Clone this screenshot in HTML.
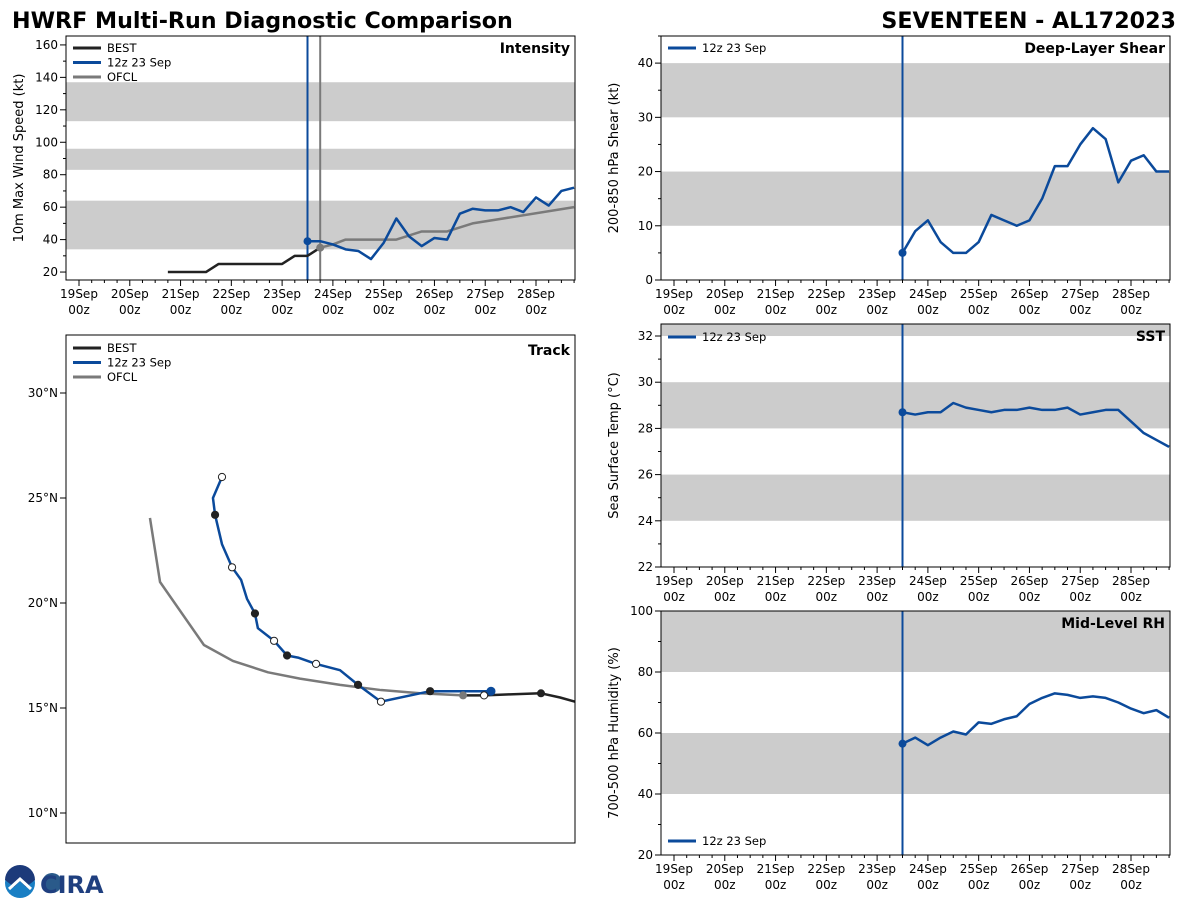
<!DOCTYPE html>
<html><head><meta charset="utf-8"><style>
body{margin:0;background:#fff;width:1200px;height:900px;overflow:hidden;font-family:"DejaVu Sans","Liberation Sans",sans-serif}
svg text{font-family:"DejaVu Sans","Liberation Sans",sans-serif}
</style></head><body>
<svg id="s" width="1200" height="900" xmlns="http://www.w3.org/2000/svg">
<text x="12" y="28" font-size="22.2" font-weight="bold">HWRF Multi-Run Diagnostic Comparison</text>
<text x="1176" y="28" font-size="22.2" font-weight="bold" text-anchor="end">SEVENTEEN - AL172023</text>
<g>
<circle cx="20" cy="883" r="15" fill="#1a7fc4"/><path d="M5,880 A15,15 0 0 1 35,880 L26,887 L20,881 L14,887 Z" fill="#1c3a7a"/><path d="M9,889 L20,879 L31,889" stroke="#fff" stroke-width="3" fill="none"/>
<circle cx="52" cy="883" r="10" fill="#2a5a8a"/>
<text x="40" y="893" font-size="24" font-weight="bold" fill="#1f3f7f" font-family="Liberation Serif,serif">CIRA</text>
</g>
</svg>
<script>
const S=document.getElementById('s');const NS='http://www.w3.org/2000/svg';
function el(t,a,p){const e=document.createElementNS(NS,t);for(const k in a)e.setAttribute(k,a[k]);(p||S).appendChild(e);return e;}
const BLUE='#0b4a9b',GRAY='#7a7a7a',BLK='#222';
const dayLabels=['19Sep','20Sep','21Sep','22Sep','23Sep','24Sep','25Sep','26Sep','27Sep','28Sep'];
// Data arrays
const intBest=[20,20,20,20,25,25,25,25,25,25,30,30,35]; // from 20Sep18z, 6-hourly
const intHwrf=[39,39,37,34,33,28,38,53,42,36,41,40,56,59,58,58,60,57,66,61,70,72]; // from 23Sep12z
const ofclDays=[23.75,24.0,24.25,25.25,25.75,26.25,26.75,28.75];
const ofclVals=[35,37,40,40,45,45,50,60];
const shearVals=[5,9,11,7,5,5,7,12,11,10,11,15,21,21,25,28,26,18,22,23,20,20];
const sstVals=[28.7,28.6,28.7,28.7,29.1,28.9,28.8,28.7,28.8,28.8,28.9,28.8,28.8,28.9,28.6,28.7,28.8,28.8,28.3,27.8,27.5,27.2];
const rhVals=[56.5,58.5,56,58.5,60.5,59.5,63.5,63,64.5,65.5,69.5,71.5,73,72.5,71.5,72,71.5,70,68,66.5,67.5,65];
const hwrfTrackLon=[-43.7,-46.6,-48.94,-50.03,-50.89,-52.03,-52.89,-53.41,-54.03,-54.8,-54.94,-55.32,-55.6,-56.03,-56.51,-56.84,-56.94,-56.51];
const hwrfTrackLat=[15.8,15.8,15.3,16.1,16.8,17.1,17.4,17.5,18.2,18.8,19.5,20.2,21.1,21.7,22.8,24.2,25.0,26.0];
const bestTrackLon=[-45.03,-44.03,-42.8,-41.32,-40.41,-39.7];
const bestTrackLat=[15.6,15.6,15.65,15.7,15.5,15.3];
const ofclTrackLon=[-45.03,-47.08,-48.99,-50.89,-52.8,-54.32,-55.99,-57.37,-59.46,-59.94];
const ofclTrackLat=[15.6,15.7,15.86,16.1,16.4,16.7,17.24,18.0,21.0,24.05];
function tx(x0,x1){return d=>x0+(d-19)*(x1-x0)/9;}
function panel(o){
  const g=el('g',{});
  const y=v=>o.y1+(o.vmax-v)*(o.y0-o.y1)/(o.vmax-o.vmin);
  o.bands.forEach(b=>{const r=el('rect',{x:o.L,y:y(Math.min(b[1],o.vmax)),width:o.R-o.L,height:y(b[0])-y(Math.min(b[1],o.vmax)),fill:'#cccccc'},g);
    });
  for(let v=o.tmin;v<=o.vmax;v+=o.minor){el('line',{x1:o.L-(v%o.step==0?6:3),x2:o.L,y1:y(v),y2:y(v),stroke:'#000'},g);}
  for(let v=o.tmin;v<=o.vmax;v+=o.step){const t=el('text',{x:o.L-8,y:y(v)+4,'font-size':12,'text-anchor':'end'},g);t.textContent=v;
    }
  const yl=el('text',{x:0,y:0,'font-size':13,'text-anchor':'middle',transform:`translate(${o.L-43},${(o.y0+o.y1)/2}) rotate(-90)`},g);yl.textContent=o.ylab;
  
  const X=tx(o.L+13,o.L+13+457*(o.R-o.L)/509);
  for(let d=19;d<=29;d+=0.25){const x=X(d);if(x>o.R+0.5)break;el('line',{x1:x,x2:x,y1:o.y0,y2:o.y0+(d%1==0?6:3),stroke:'#000'},g);}
  dayLabels.forEach((lb,i)=>{const t=el('text',{x:X(19+i),y:o.y0+18,'font-size':12,'text-anchor':'middle'},g);t.textContent=lb;
    
    const t2=el('text',{x:X(19+i),y:o.y0+34,'font-size':12,'text-anchor':'middle'},g);t2.textContent='00z';
    });
  const tl=el('text',{x:o.R-5,y:o.y1+17,'font-size':14,'font-weight':'bold','text-anchor':'end'},g);tl.textContent=o.title;
  
  return {g,y,X};
}
function line(g,pts,c,name){const p=el('polyline',{points:pts.map(p=>p.join(',')).join(' '),fill:'none',stroke:c,'stroke-width':2.5,'stroke-linejoin':'round'},g);
  }
function vline(g,x,o,c){el('line',{x1:x,x2:x,y1:o.y1,y2:o.y0,stroke:c,'stroke-width':2},g);}
function frame(g,o){el('rect',{x:o.L,y:o.y1,width:o.R-o.L,height:o.y0-o.y1,fill:'none',stroke:'#000','stroke-width':1},g);}
function legend(g,x,y,items){items.forEach((it,i)=>{el('line',{x1:x,x2:x+28,y1:y+i*14.5,y2:y+i*14.5,stroke:it[1],'stroke-width':3},g);
  const t=el('text',{x:x+34,y:y+i*14.5+4,'font-size':11.5},g);t.textContent=it[0];
  });}
// Intensity
{const o={name:'intensity-panel',L:66,R:575,y0:280,y1:36,vmin:15.1,vmax:165.5,tmin:20,step:20,minor:10,bands:[[34,64],[83,96],[113,137]],ylab:'10m Max Wind Speed (kt)',title:'Intensity'};
 const P=panel(o);const g=P.g;
 vline(g,P.X(23.5),o,BLUE);vline(g,P.X(23.75),o,GRAY);
 line(g,intBest.map((v,i)=>[P.X(20.75+i*0.25),P.y(v)]),BLK,'best-intensity-line');
 line(g,ofclVals.map((v,i)=>[P.X(ofclDays[i]),P.y(v)]),GRAY,'ofcl-intensity-line');
 line(g,intHwrf.map((v,i)=>[P.X(23.5+i*0.25),P.y(v)]),BLUE,'hwrf-intensity-line');
 el('circle',{cx:P.X(23.5),cy:P.y(intHwrf[0]),r:4,fill:BLUE},g);el('circle',{cx:P.X(23.75),cy:P.y(ofclVals[0]),r:4,fill:GRAY},g);
 frame(g,o);legend(g,73,48,[['BEST',BLK],['12z 23 Sep',BLUE],['OFCL',GRAY]]);}
// Shear
{const o={name:'shear-panel',L:661,R:1170,y0:280,y1:36,vmin:0,vmax:45,tmin:0,step:10,minor:5,bands:[[10,20],[30,40]],ylab:'200-850 hPa Shear (kt)',title:'Deep-Layer Shear'};
 const P=panel(o);const g=P.g;vline(g,P.X(23.5),o,BLUE);
 line(g,shearVals.map((v,i)=>[P.X(23.5+i*0.25),P.y(v)]),BLUE,'shear-line');
 el('circle',{cx:P.X(23.5),cy:P.y(shearVals[0]),r:4,fill:BLUE},g);frame(g,o);legend(g,668,48,[['12z 23 Sep',BLUE]]);}
// SST
{const o={name:'sst-panel',L:661,R:1170,y0:567,y1:324,vmin:22,vmax:32.52,tmin:22,step:2,minor:1,bands:[[24,26],[28,30],[32,34]],ylab:'Sea Surface Temp (°C)',title:'SST'};
 const P=panel(o);const g=P.g;vline(g,P.X(23.5),o,BLUE);
 line(g,sstVals.map((v,i)=>[P.X(23.5+i*0.25),P.y(v)]),BLUE,'sst-line');
 el('circle',{cx:P.X(23.5),cy:P.y(sstVals[0]),r:4,fill:BLUE},g);frame(g,o);legend(g,668,337,[['12z 23 Sep',BLUE]]);}
// RH
{const o={name:'rh-panel',L:661,R:1170,y0:855,y1:611,vmin:20,vmax:100,tmin:20,step:20,minor:10,bands:[[40,60],[80,100]],ylab:'700-500 hPa Humidity (%)',title:'Mid-Level RH'};
 const P=panel(o);const g=P.g;vline(g,P.X(23.5),o,BLUE);
 line(g,rhVals.map((v,i)=>[P.X(23.5+i*0.25),P.y(v)]),BLUE,'rh-line');
 el('circle',{cx:P.X(23.5),cy:P.y(rhVals[0]),r:4,fill:BLUE},g);frame(g,o);legend(g,668,841,[['12z 23 Sep',BLUE]]);}
// Track
{const g=el('g',{});
 const L=66,R=575,T=335,B=843;
 const ly=lat=>708-(lat-15)*21, lx=lon=>575+(lon+39.7)*21;
 [10,15,20,25,30].forEach(v=>{el('line',{x1:L-6,x2:L,y1:ly(v),y2:ly(v),stroke:'#000'},g);
   const t=el('text',{x:L-8,y:ly(v)+4,'font-size':12,'text-anchor':'end'},g);t.textContent=v+'°N';
   });
 const tl=el('text',{x:R-5,y:T+20,'font-size':14,'font-weight':'bold','text-anchor':'end'},g);tl.textContent='Track';
 
 line(g,ofclTrackLon.map((v,i)=>[lx(v),ly(ofclTrackLat[i])]),GRAY,'ofcl-track');
 line(g,bestTrackLon.map((v,i)=>[lx(v),ly(bestTrackLat[i])]),BLK,'best-track');
 const hp=hwrfTrackLon.map((v,i)=>[lx(v),ly(hwrfTrackLat[i])]);
 line(g,hp,BLUE,'hwrf-track');
 const mk=[[0,BLUE],[1,BLK],[2,'#fff'],[3,BLK],[5,'#fff'],[7,BLK],[8,'#fff'],[10,BLK],[13,'#fff'],[15,BLK],[17,'#fff']];
 mk.forEach(m=>{const p=hp[m[0]];const c=el('circle',{cx:p[0],cy:p[1],r:m[1]==BLUE?4:3.6,fill:m[1],stroke:m[1]=='#fff'?'#222':m[1],'stroke-width':1},g);
   });
 el('circle',{cx:lx(bestTrackLon[0]),cy:ly(bestTrackLat[0]),r:4,fill:GRAY},g);
 el('circle',{cx:lx(bestTrackLon[1]),cy:ly(bestTrackLat[1]),r:3.6,fill:'#fff',stroke:'#222'},g);
 el('circle',{cx:lx(bestTrackLon[3]),cy:ly(bestTrackLat[3]),r:4,fill:BLK},g);
 el('rect',{x:L,y:T,width:R-L,height:B-T,fill:'none',stroke:'#000'},g);
 legend(g,73,348,[['BEST',BLK],['12z 23 Sep',BLUE],['OFCL',GRAY]]);}
</script>
</body></html>
